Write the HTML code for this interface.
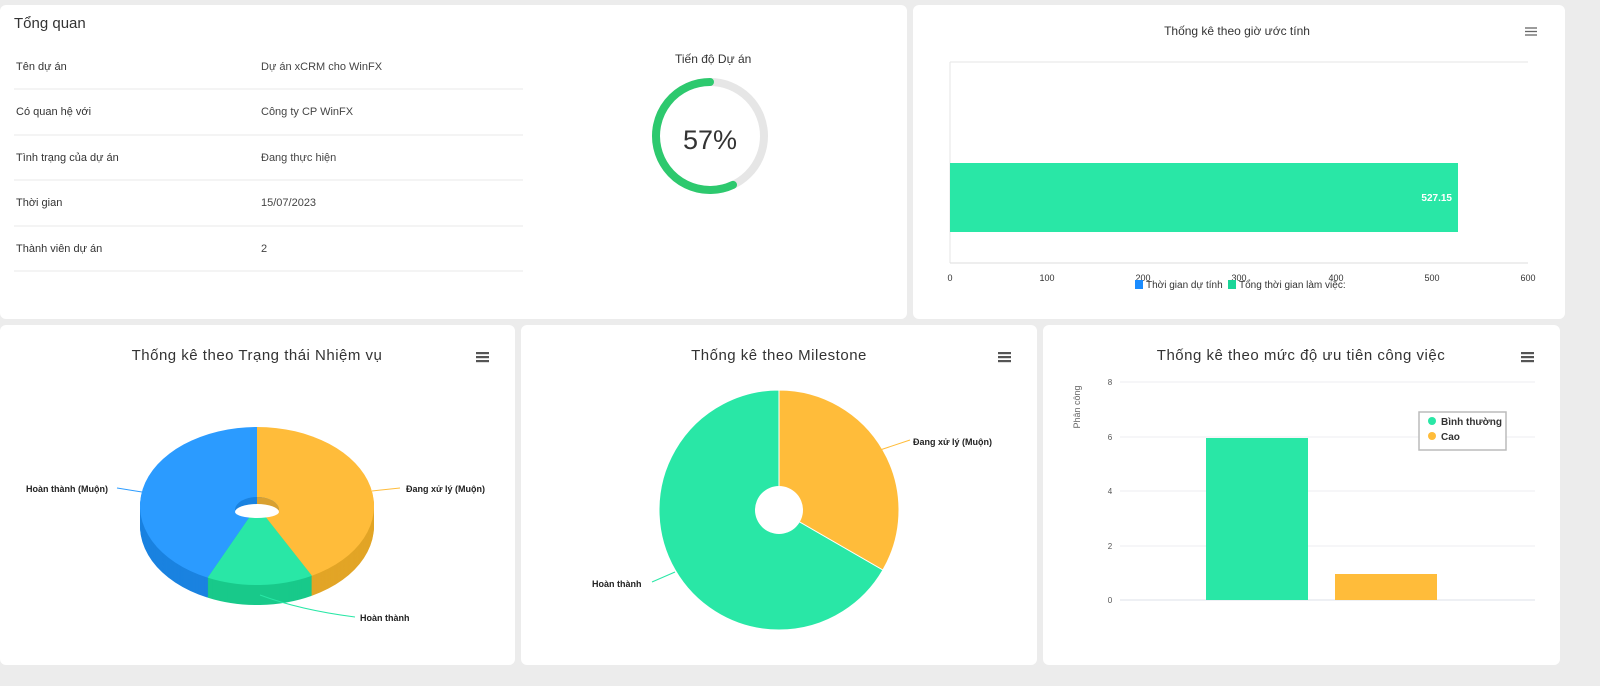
<!DOCTYPE html>
<html><head><meta charset="utf-8">
<style>
body{margin:0;width:1600px;height:686px;background:#ececec;font-family:"Liberation Sans","DejaVu Sans",sans-serif;position:relative;overflow:hidden}
.card{position:absolute;background:#fff;border-radius:6px}
.t{position:absolute;font-size:11px;color:#333}
svg{position:absolute;left:0;top:0}
</style></head><body>
<div class="card" style="left:0;top:5px;width:907px;height:314px"></div>
<div class="card" style="left:913px;top:5px;width:652px;height:314px"></div>
<div class="card" style="left:0;top:325px;width:515px;height:340px"></div>
<div class="card" style="left:521px;top:325px;width:516px;height:340px"></div>
<div class="card" style="left:1043px;top:325px;width:517px;height:340px"></div>

<div class="t" style="left:14px;top:15px;font-size:15px;color:#333">Tổng quan</div>
<div class="t" style="left:16px;top:61px">Tên dự án</div><div class="t" style="left:261px;top:61px;color:#444">Dự án xCRM cho WinFX</div>
<div class="t" style="left:16px;top:106px">Có quan hệ với</div><div class="t" style="left:261px;top:106px;color:#444">Công ty CP WinFX</div>
<div class="t" style="left:16px;top:152px">Tình trạng của dự án</div><div class="t" style="left:261px;top:152px;color:#444">Đang thực hiện</div>
<div class="t" style="left:16px;top:197px">Thời gian</div><div class="t" style="left:261px;top:197px;color:#444">15/07/2023</div>
<div class="t" style="left:16px;top:243px">Thành viên dự án</div><div class="t" style="left:261px;top:243px;color:#444">2</div>
<div class="t" style="left:675px;top:52px;font-size:12px">Tiến độ Dự án</div>

<svg width="1600" height="686" id="s">
<g stroke="#e8e8e8" stroke-width="1">
<line x1="14" y1="89" x2="523" y2="89"/><line x1="14" y1="135" x2="523" y2="135"/><line x1="14" y1="180" x2="523" y2="180"/><line x1="14" y1="226" x2="523" y2="226"/><line x1="14" y1="271" x2="523" y2="271"/>
</g>
<circle cx="710" cy="136" r="54" fill="none" stroke="#e6e6e6" stroke-width="8"/>
<path id="prog" fill="none" stroke="#2dc96e" stroke-width="8" stroke-linecap="round"/>
<text x="710" y="149" font-size="27" text-anchor="middle" fill="#333">57%</text>

<text x="1237" y="35" font-size="12" text-anchor="middle" fill="#333">Thống kê theo giờ ước tính</text>
<g stroke="#666" stroke-width="1.3"><line x1="1525" y1="28" x2="1537" y2="28"/><line x1="1525" y1="31.5" x2="1537" y2="31.5"/><line x1="1525" y1="35" x2="1537" y2="35"/></g>
<line x1="950" y1="62" x2="1528" y2="62" stroke="#e6e6e6"/>
<line x1="950" y1="62" x2="950" y2="263" stroke="#e6e6e6"/>
<line x1="950" y1="263" x2="1528" y2="263" stroke="#ddd"/>
<rect x="950" y="163" width="508" height="69" fill="#29e7a6"/>
<text x="1452" y="201" font-size="10" font-weight="bold" fill="#fff" text-anchor="end">527.15</text>
<g font-size="9" fill="#333" text-anchor="middle">
<text x="950" y="281">0</text><text x="1047" y="281">100</text><text x="1143" y="281">200</text><text x="1239" y="281">300</text><text x="1336" y="281">400</text><text x="1432" y="281">500</text><text x="1528" y="281">600</text></g>
<rect x="1135" y="280" width="8" height="9" fill="#1a8cff"/><text x="1146" y="288" font-size="10" fill="#333">Thời gian dự tính</text>
<rect x="1228" y="280" width="8" height="9" fill="#1ad598"/><text x="1239" y="288" font-size="10" fill="#333">Tổng thời gian làm việc:</text>

<text x="257" y="360" font-size="15" text-anchor="middle" fill="#333" letter-spacing="0.5">Thống kê theo Trạng thái Nhiệm vụ</text>
<text x="779" y="360" font-size="15" text-anchor="middle" fill="#333" letter-spacing="0.5">Thống kê theo Milestone</text>
<text x="1301" y="360" font-size="15" text-anchor="middle" fill="#333" letter-spacing="0.5">Thống kê theo mức độ ưu tiên công việc</text>
<g fill="#555"><rect x="476" y="352" width="13" height="2.2"/><rect x="476" y="356" width="13" height="2.2"/><rect x="476" y="360" width="13" height="2.2"/>
<rect x="998" y="352" width="13" height="2.2"/><rect x="998" y="356" width="13" height="2.2"/><rect x="998" y="360" width="13" height="2.2"/>
<rect x="1521" y="352" width="13" height="2.2"/><rect x="1521" y="356" width="13" height="2.2"/><rect x="1521" y="360" width="13" height="2.2"/></g>

<g id="pie3d"></g>
<g fill="none" stroke-width="1"><path d="M117 488 L142 492" stroke="#2b9bff"/><path d="M372 491 L400 488" stroke="#ffbc3a"/><path d="M260 595 Q300 610 355 617" stroke="#29e7a6"/></g>
<g font-size="9" font-weight="bold" fill="#222">
<text x="26" y="492">Hoàn thành (Muộn)</text><text x="406" y="492">Đang xử lý (Muộn)</text><text x="360" y="621">Hoàn thành</text>
<text x="913" y="445">Đang xử lý (Muộn)</text><text x="592" y="587">Hoàn thành</text></g>

<g id="pie2"></g>
<g fill="none"><path d="M880 450 L910 440" stroke="#ffbc3a"/><path d="M652 582 L675 572" stroke="#29e7a6"/></g>

<g stroke="#eceef2"><line x1="1120" y1="382" x2="1535" y2="382"/><line x1="1120" y1="437" x2="1535" y2="437"/><line x1="1120" y1="491" x2="1535" y2="491"/><line x1="1120" y1="546" x2="1535" y2="546"/></g>
<line x1="1120" y1="600" x2="1535" y2="600" stroke="#dde1ea"/>
<g font-size="8" fill="#555" text-anchor="middle"><text x="1110" y="385">8</text><text x="1110" y="440">6</text><text x="1110" y="494">4</text><text x="1110" y="549">2</text><text x="1110" y="603">0</text></g>
<text transform="translate(1080,407) rotate(-90)" font-size="9" fill="#666" text-anchor="middle">Phân công</text>
<rect x="1206" y="438" width="102" height="162" fill="#29e7a6"/>
<rect x="1335" y="574" width="102" height="26" fill="#ffbc3a"/>
<rect x="1419" y="412" width="87" height="38" fill="#fff" stroke="#bbb" stroke-width="1.5"/>
<circle cx="1432" cy="421" r="4" fill="#29e7a6"/><text x="1441" y="425" font-size="10" font-weight="bold" fill="#333">Bình thường</text>
<circle cx="1432" cy="436" r="4" fill="#ffbc3a"/><text x="1441" y="440" font-size="10" font-weight="bold" fill="#333">Cao</text>
</svg>
<script>
function pt(cx,cy,rx,ry,a){return [cx+rx*Math.sin(a),cy-ry*Math.cos(a)];}
function slice(cx,cy,rx,ry,a0,a1){var p=pt(cx,cy,rx,ry,a0),q=pt(cx,cy,rx,ry,a1);return 'M'+cx+' '+cy+'L'+p[0]+' '+p[1]+'A'+rx+' '+ry+' 0 '+((a1-a0)>Math.PI?1:0)+' 1 '+q[0]+' '+q[1]+'Z';}
var D=Math.PI/180;
var p=pt(710,136,54,54,-0.57*2*Math.PI);
document.getElementById('prog').setAttribute('d','M710 82 A54 54 0 1 0 '+p[0]+' '+p[1]);
var s=[[0,152,'#ffbc3a','#e2a526'],[152,205,'#29e7a6','#18c98a'],[205,360,'#2b9bff','#1a82e0']];
var h='';var cx=257,cy=506,rx=117,ry=79;
for(var d=20;d>0;d--){s.forEach(function(x){h+='<path d="'+slice(cx,cy+d,rx,ry,x[0]*D,x[1]*D)+'" fill="'+x[3]+'"/>';});}
s.forEach(function(x){h+='<path d="'+slice(cx,cy,rx,ry,x[0]*D,x[1]*D)+'" fill="'+x[2]+'"/>';});
h+='<path d="M235 510 A22 13 0 0 1 279 510 Z" fill="#1a82e0"/><path d="M257 497 A22 13 0 0 1 279 510 L257 510Z" fill="#d9a030"/><path d="M235 512 A22 8 0 0 1 279 512 A22 6 0 0 1 235 512Z" fill="#fff"/>';
document.getElementById('pie3d').innerHTML=h;
var g='<path d="'+slice(779,510,120,120,120*D,360*D)+'" fill="#29e7a6" stroke="#fff"/><path d="'+slice(779,510,120,120,0,120*D)+'" fill="#ffbc3a" stroke="#fff"/><circle cx="779" cy="510" r="24" fill="#fff"/>';
document.getElementById('pie2').innerHTML=g;
</script>
</body></html>
